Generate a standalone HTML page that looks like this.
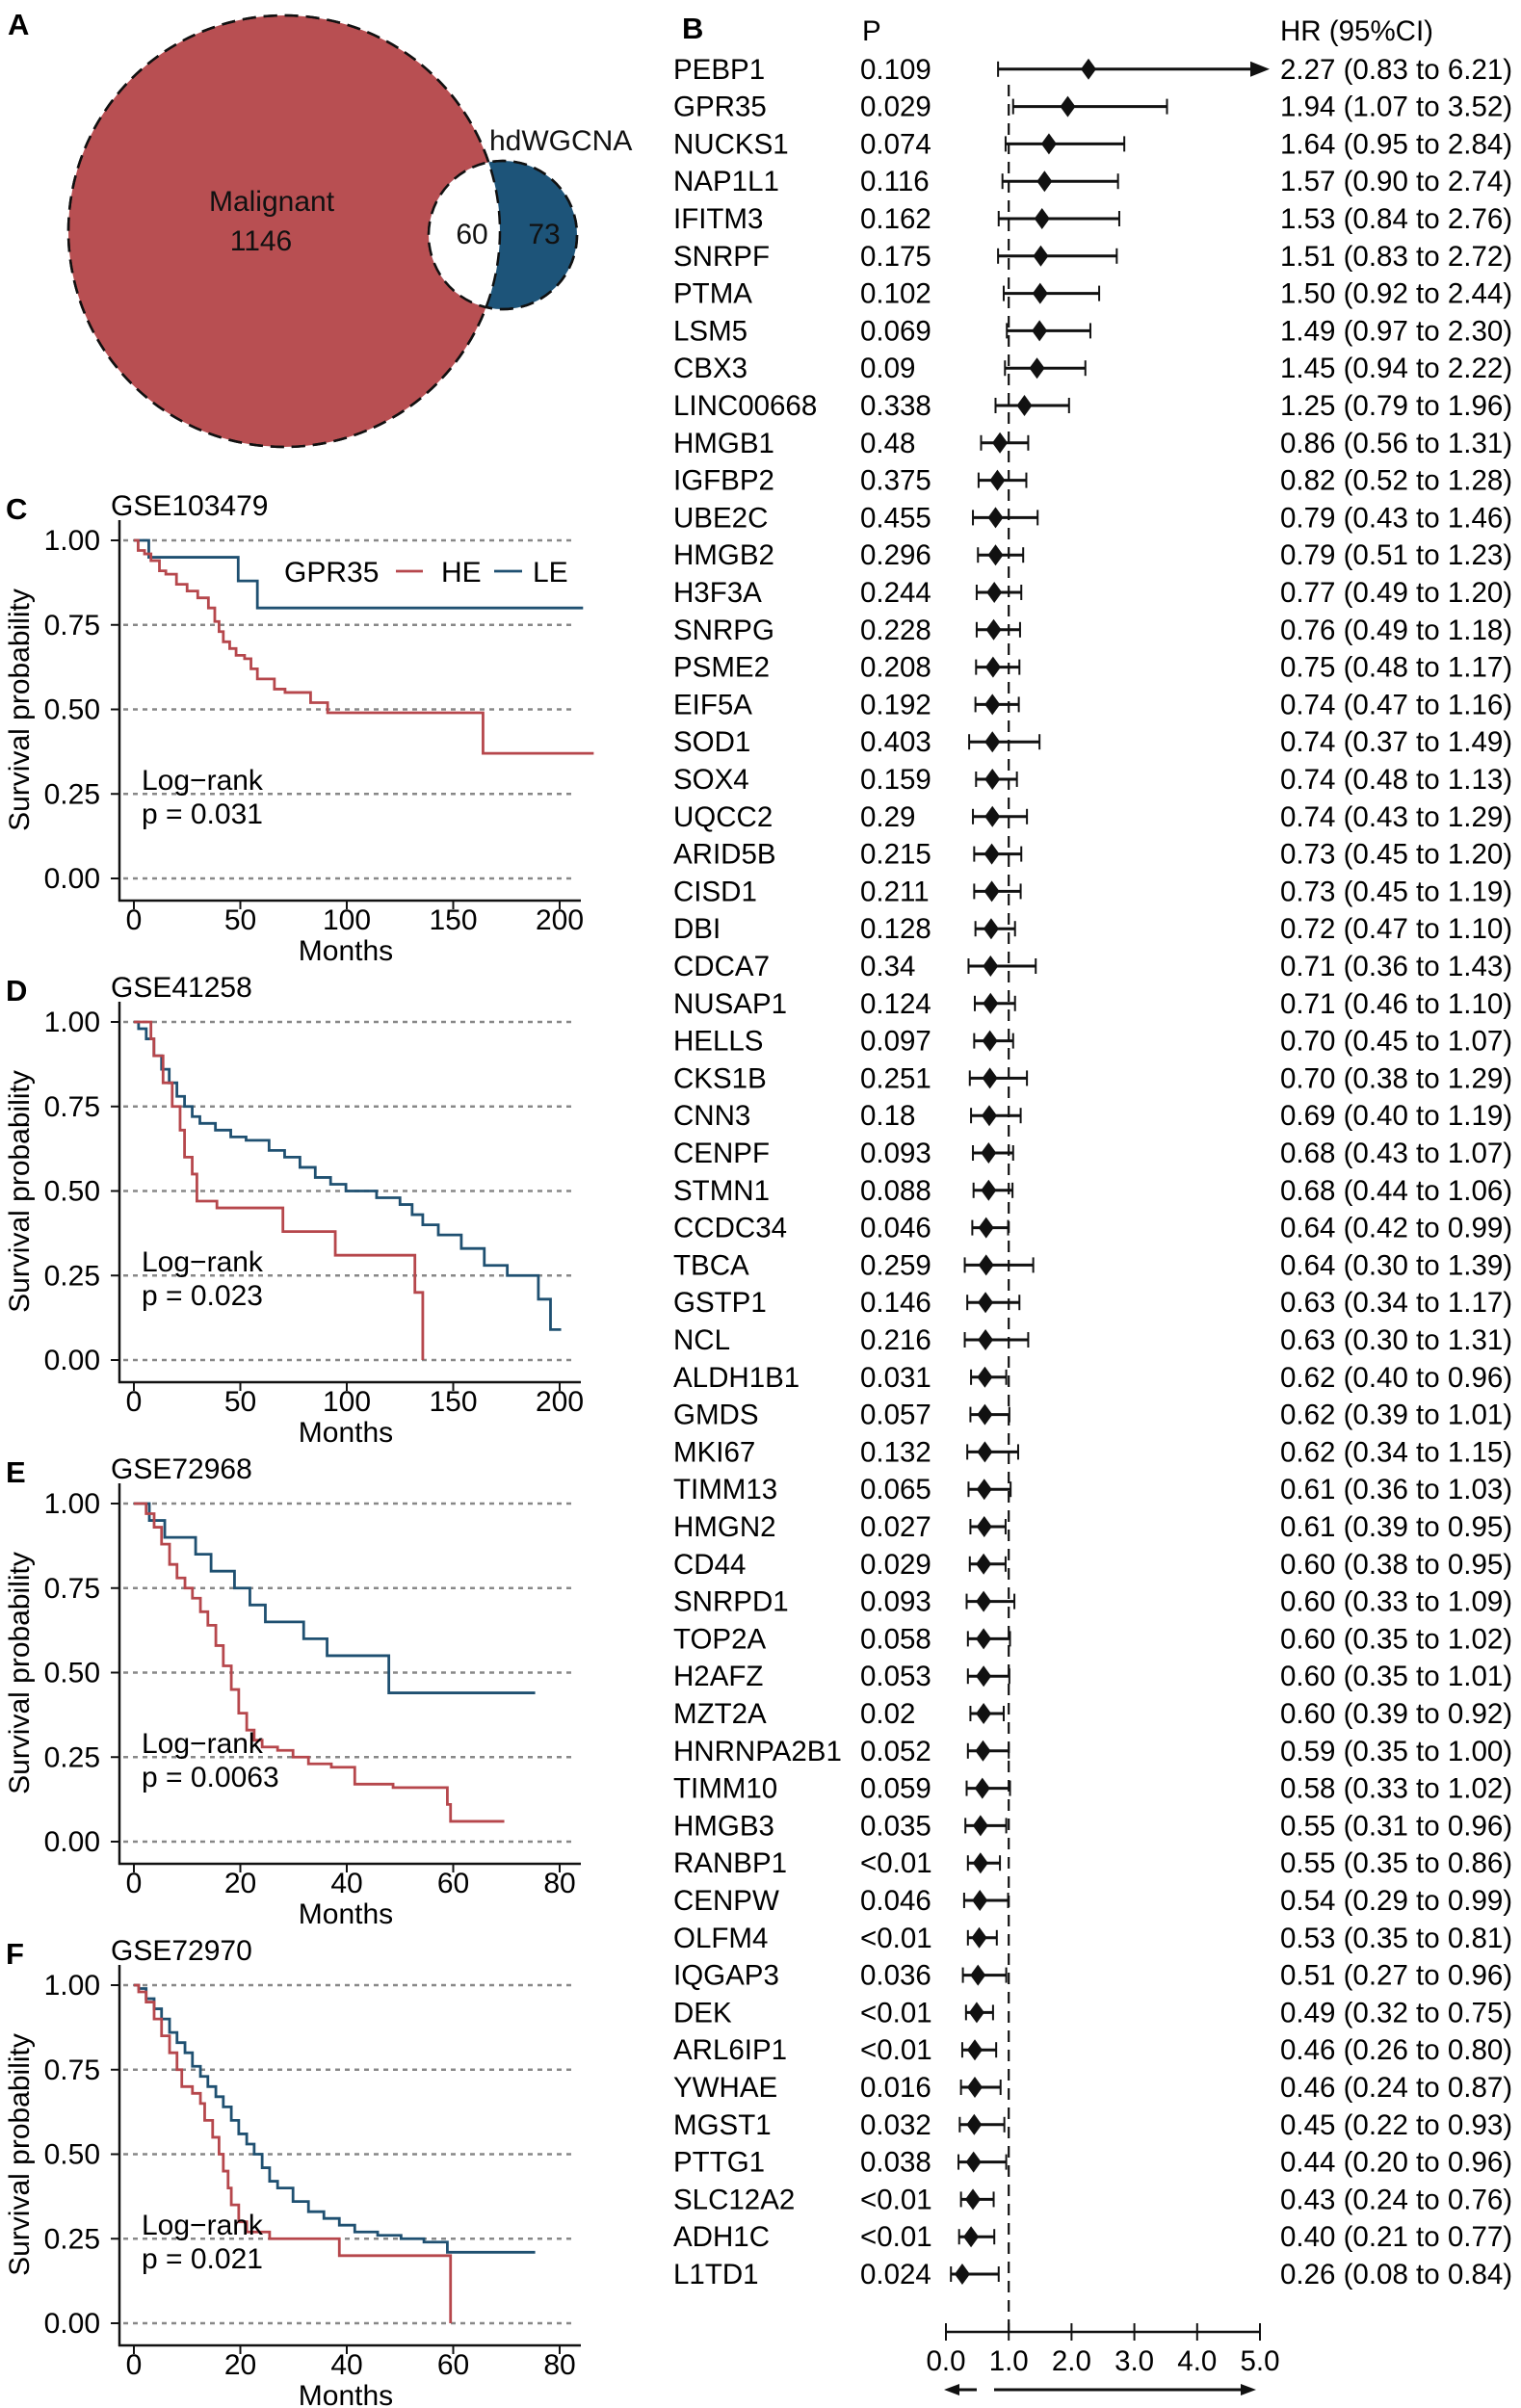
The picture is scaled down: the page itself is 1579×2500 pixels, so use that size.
<!DOCTYPE html>
<html><head><meta charset="utf-8"><style>
html,body{margin:0;padding:0;background:#fff}
svg{display:block;font-family:"Liberation Sans",Arial,sans-serif}
</style></head><body>
<svg id="fig" width="1579" height="2500" viewBox="0 0 1579 2500" xmlns="http://www.w3.org/2000/svg">
<g>
<text x="8" y="36" font-size="31" font-weight="bold">A</text>
<circle cx="295" cy="240" r="224" fill="#b84f52" stroke="#111" stroke-width="2.5" stroke-dasharray="14 8"/>
<circle cx="522" cy="244" r="77" fill="#1d5479" stroke="#111" stroke-width="2.5" stroke-dasharray="14 8"/>
<clipPath id="cl"><circle cx="295" cy="240" r="224"/></clipPath>
<circle cx="522" cy="244" r="77" fill="#fff" clip-path="url(#cl)"/>
<circle cx="295" cy="240" r="224" fill="none" stroke="#111" stroke-width="2.5" stroke-dasharray="14 8"/>
<circle cx="522" cy="244" r="77" fill="none" stroke="#111" stroke-width="2.5" stroke-dasharray="14 8"/>
<text x="282" y="219" font-size="30" text-anchor="middle" fill="#111">Malignant</text>
<text x="271" y="260" font-size="30" text-anchor="middle" fill="#111">1146</text>
<text x="490" y="253" font-size="30" text-anchor="middle" fill="#111">60</text>
<text x="565" y="253" font-size="30" text-anchor="middle" fill="#111">73</text>
<text x="508" y="156" font-size="30" fill="#111">hdWGCNA</text>
</g>
<g id="forest"></g>
<g id="km"></g>
</svg>
<script>
const NS="http://www.w3.org/2000/svg";
function mk(parent,tag,attrs,txt){const e=document.createElementNS(NS,tag);for(const k in attrs)e.setAttribute(k,attrs[k]);if(txt!==undefined)e.textContent=txt;parent.appendChild(e);return e;}

// ---------- Forest data ----------
const genes=["PEBP1","GPR35","NUCKS1","NAP1L1","IFITM3","SNRPF","PTMA","LSM5","CBX3","LINC00668","HMGB1","IGFBP2","UBE2C","HMGB2","H3F3A","SNRPG","PSME2","EIF5A","SOD1","SOX4","UQCC2","ARID5B","CISD1","DBI","CDCA7","NUSAP1","HELLS","CKS1B","CNN3","CENPF","STMN1","CCDC34","TBCA","GSTP1","NCL","ALDH1B1","GMDS","MKI67","TIMM13","HMGN2","CD44","SNRPD1","TOP2A","H2AFZ","MZT2A","HNRNPA2B1","TIMM10","HMGB3","RANBP1","CENPW","OLFM4","IQGAP3","DEK","ARL6IP1","YWHAE","MGST1","PTTG1","SLC12A2","ADH1C","L1TD1"];
const pvals=["0.109","0.029","0.074","0.116","0.162","0.175","0.102","0.069","0.09","0.338","0.48","0.375","0.455","0.296","0.244","0.228","0.208","0.192","0.403","0.159","0.29","0.215","0.211","0.128","0.34","0.124","0.097","0.251","0.18","0.093","0.088","0.046","0.259","0.146","0.216","0.031","0.057","0.132","0.065","0.027","0.029","0.093","0.058","0.053","0.02","0.052","0.059","0.035","<0.01","0.046","<0.01","0.036","<0.01","<0.01","0.016","0.032","0.038","<0.01","<0.01","0.024"];
const hr=[2.27,1.94,1.64,1.57,1.53,1.51,1.50,1.49,1.45,1.25,0.86,0.82,0.79,0.79,0.77,0.76,0.75,0.74,0.74,0.74,0.74,0.73,0.73,0.72,0.71,0.71,0.70,0.70,0.69,0.68,0.68,0.64,0.64,0.63,0.63,0.62,0.62,0.62,0.61,0.61,0.60,0.60,0.60,0.60,0.60,0.59,0.58,0.55,0.55,0.54,0.53,0.51,0.49,0.46,0.46,0.45,0.44,0.43,0.40,0.26];
const lo=[0.83,1.07,0.95,0.90,0.84,0.83,0.92,0.97,0.94,0.79,0.56,0.52,0.43,0.51,0.49,0.49,0.48,0.47,0.37,0.48,0.43,0.45,0.45,0.47,0.36,0.46,0.45,0.38,0.40,0.43,0.44,0.42,0.30,0.34,0.30,0.40,0.39,0.34,0.36,0.39,0.38,0.33,0.35,0.35,0.39,0.35,0.33,0.31,0.35,0.29,0.35,0.27,0.32,0.26,0.24,0.22,0.20,0.24,0.21,0.08];
const hi=[6.21,3.52,2.84,2.74,2.76,2.72,2.44,2.30,2.22,1.96,1.31,1.28,1.46,1.23,1.20,1.18,1.17,1.16,1.49,1.13,1.29,1.20,1.19,1.10,1.43,1.10,1.07,1.29,1.19,1.07,1.06,0.99,1.39,1.17,1.31,0.96,1.01,1.15,1.03,0.95,0.95,1.09,1.02,1.01,0.92,1.00,1.02,0.96,0.86,0.99,0.81,0.96,0.75,0.80,0.87,0.93,0.96,0.76,0.77,0.84];
const hrTicks=["0.0","1.0","2.0","3.0","4.0","5.0"];

const F=document.getElementById('forest');
const fx=v=>982+v*(1308-982)/5;
const rowY=i=>71.8+i*38.8;
const FS=29.5;
let t;
t=mk(F,'text',{x:708,y:40,'font-size':31,'font-weight':'bold'},'B');
t=mk(F,'text',{x:895,y:42,'font-size':FS},'P');
t=mk(F,'text',{x:1329,y:42,'font-size':FS},'HR (95%CI)');
const ref=mk(F,'line',{x1:fx(1),x2:fx(1),y1:88,y2:2421,stroke:'#111','stroke-width':2.2,'stroke-dasharray':'12 8'});

genes.forEach((g,i)=>{
  const y=rowY(i);
  const row=mk(F,'g',{});
  
  
  let e=mk(row,'text',{x:699,y:y+10,'font-size':FS},g);
  
  e=mk(row,'text',{x:893,y:y+10,'font-size':FS},pvals[i]);
  
  e=mk(row,'text',{x:1329,y:y+10,'font-size':FS},hr[i].toFixed(2)+' ('+lo[i].toFixed(2)+' to '+hi[i].toFixed(2)+')');
  
  const over=hi[i]>5;
  const xe=over?fx(5)+8:fx(hi[i]);
  e=mk(row,'line',{x1:fx(lo[i]),x2:over?xe-14:xe,y1:y,y2:y,stroke:'#111','stroke-width':3});
  
  mk(row,'line',{x1:fx(lo[i]),x2:fx(lo[i]),y1:y-8,y2:y+8,stroke:'#111','stroke-width':2});
  if(over){mk(row,'path',{d:`M${xe-18},${y-8}L${xe+2},${y}L${xe-18},${y+8}Z`,fill:'#111'});}
  else mk(row,'line',{x1:xe,x2:xe,y1:y-8,y2:y+8,stroke:'#111','stroke-width':2});
  const cx=fx(hr[i]);
  e=mk(row,'path',{d:`M${cx-8},${y}L${cx},${y-11}L${cx+8},${y}L${cx},${y+11}Z`,fill:'#111'});
  
});
const ax=mk(F,'g',{});
mk(ax,'line',{x1:fx(0),x2:fx(5),y1:2421,y2:2421,stroke:'#111','stroke-width':2.5});
hrTicks.forEach(s=>{const v=parseFloat(s);mk(ax,'line',{x1:fx(v),x2:fx(v),y1:2412,y2:2430,stroke:'#111','stroke-width':2});
  const e=mk(ax,'text',{x:fx(v),y:2461,'font-size':FS,'text-anchor':'middle'},s);});
mk(ax,'line',{x1:992,x2:1014,y1:2481,y2:2481,stroke:'#111','stroke-width':3});
mk(ax,'path',{d:'M980,2481L996,2475L996,2487Z',fill:'#111'});
mk(ax,'line',{x1:1032,x2:1292,y1:2481,y2:2481,stroke:'#111','stroke-width':3});
mk(ax,'path',{d:'M1304,2481L1288,2475L1288,2487Z',fill:'#111'});

// ---------- KM data ----------
const RED="#b6474c", BLUE="#1f5071";
const cHeT=[0,2,5,8,12,15,20,25,30,35,38,40,42,45,48,52,55,58,66,71,83,91,164,216];
const cHeS=[1,.97,.96,.94,.91,.90,.87,.85,.83,.80,.76,.73,.70,.68,.66,.65,.62,.59,.56,.55,.52,.49,.37,.37];
const cLeT=[0,7,49,58,211];
const cLeS=[1,.95,.88,.80,.80];
const dHeT=[0,8,9.4,13.7,18,21.7,23.8,27.4,29.6,39,70,94.6,132,135.7,135.7];
const dHeS=[1,.95,.90,.82,.75,.68,.60,.55,.47,.45,.38,.31,.20,0,0];
const dLeT=[0,2.2,5.8,9.4,13,16.6,20.2,23.8,27.4,31,38.3,45.5,52.7,63.5,70.8,78,85.2,92.4,99.6,114,125,130.7,135.7,143,153.8,164.6,175.4,190,195.7,200.7];
const dLeS=[1,.98,.95,.90,.86,.82,.78,.75,.72,.70,.68,.66,.65,.62,.60,.57,.54,.52,.50,.48,.46,.43,.40,.37,.33,.28,.25,.18,.09,.09];
const eHeT=[0,2.3,3.8,5.2,6.7,8.1,9.6,11,12.5,13.9,15.4,16.8,18.3,19.7,21.2,22.6,24.1,27,29.9,32.8,37.1,41.5,48.7,58.9,59.5,69.6];
const eHeS=[1,.97,.93,.88,.82,.78,.75,.72,.68,.64,.58,.52,.45,.38,.33,.30,.28,.27,.25,.23,.22,.17,.16,.11,.06,.06];
const eLeT=[0,2.9,5.8,11.6,14.5,18.9,21.8,24.7,31.9,36.3,47.9,75.4];
const eLeS=[1,.95,.90,.85,.80,.75,.70,.65,.60,.55,.44,.44];
const fHeT=[0,0.9,2.3,3.8,5.2,6.7,8.1,9,11,12.5,13.3,14.8,16,16.8,17.7,18.3,19.7,21.2,25.5,38.6,59.5,59.5];
const fHeS=[1,.98,.95,.90,.85,.80,.75,.70,.68,.65,.60,.55,.50,.45,.40,.35,.30,.27,.25,.20,0,0];
const fLeT=[0,.9,2.3,3.8,5.2,6.7,8.1,9.6,11,12.5,13.9,15.4,16.8,18.3,19.7,21.2,22.6,24.1,25.5,27,29.9,32.8,35.7,38.6,41.5,45.8,50.2,54.5,58.9,75.4];
const fLeS=[1,.99,.96,.93,.90,.86,.83,.80,.76,.73,.70,.67,.64,.60,.56,.53,.50,.46,.42,.40,.36,.33,.31,.29,.27,.26,.25,.24,.21,.21];
const yTicks=["0.00","0.25","0.50","0.75","1.00"];
const xTicksLong=["0","50","100","150","200"];
const xTicksShort=["0","20","40","60","80"];

const panels=[
 {L:"C",title:"GSE103479",xmax:200,ticks:xTicksLong,he:[cHeT,cHeS],le:[cLeT,cLeS],p:"p = 0.031",legend:true},
 {L:"D",title:"GSE41258",xmax:200,ticks:xTicksLong,he:[dHeT,dHeS],le:[dLeT,dLeS],p:"p = 0.023"},
 {L:"E",title:"GSE72968",xmax:80,ticks:xTicksShort,he:[eHeT,eHeS],le:[eLeT,eLeS],p:"p = 0.0063"},
 {L:"F",title:"GSE72970",xmax:80,ticks:xTicksShort,he:[fHeT,fHeS],le:[fLeT,fLeS],p:"p = 0.021"}];
const KS=30;
const K=document.getElementById('km');
panels.forEach((P,k)=>{
  const off=k*500;
  const y1=561+off,y0=912+off,x0=139,x1=581;
  const sx=t=>x0+t*(x1-x0)/P.xmax, sy=s=>y0-s*(y0-y1);
  const g=mk(K,'g',{});
  
  
  let e=mk(g,'text',{x:6,y:539+off,'font-size':31,'font-weight':'bold'},P.L);
  
  e=mk(g,'text',{x:115,y:535+off,'font-size':KS},P.title);
  
  yTicks.forEach(s=>{const v=parseFloat(s),y=sy(v);
    mk(g,'line',{x1:128,x2:596,y1:y,y2:y,stroke:'#888','stroke-width':2.5,'stroke-dasharray':'5 5'});
    mk(g,'line',{x1:115,x2:124,y1:y,y2:y,stroke:'#111','stroke-width':2});
    const t2=mk(g,'text',{x:104,y:y+10,'font-size':KS,'text-anchor':'end'},s);
    });
  mk(g,'line',{x1:124,x2:124,y1:540+off,y2:936+off,stroke:'#111','stroke-width':2.5});
  mk(g,'line',{x1:123,x2:603,y1:935+off,y2:935+off,stroke:'#111','stroke-width':2.5});
  P.ticks.forEach(s=>{const v=parseFloat(s),x=sx(v);
    mk(g,'line',{x1:x,x2:x,y1:935+off,y2:944+off,stroke:'#111','stroke-width':2});
    const t2=mk(g,'text',{x:x,y:965+off,'font-size':KS,'text-anchor':'middle'},s);
    });
  e=mk(g,'text',{x:359,y:997+off,'font-size':KS,'text-anchor':'middle'},'Months');
  
  e=mk(g,'text',{x:0,y:0,'font-size':KS,'text-anchor':'middle',transform:`translate(30,${737+off}) rotate(-90)`},'Survival probability');
  
  const step=(T,S)=>{let d=`M${sx(T[0])},${sy(S[0])}`;for(let i=1;i<T.length;i++){d+=`H${sx(T[i])}V${sy(S[i])}`;}return d;};
  e=mk(g,'path',{d:step(P.le[0],P.le[1]),fill:'none',stroke:BLUE,'stroke-width':2.8});
  
  e=mk(g,'path',{d:step(P.he[0],P.he[1]),fill:'none',stroke:RED,'stroke-width':2.8});
  
  e=mk(g,'text',{x:147,y:820+off,'font-size':KS},'Log\u2212rank');
  
  e=mk(g,'text',{x:147,y:855+off,'font-size':KS},P.p);
  
  if(P.legend){
    const lg=mk(g,'g',{});
    mk(lg,'text',{x:295,y:604,'font-size':KS},'GPR35');
    mk(lg,'line',{x1:411,x2:439,y1:593,y2:593,stroke:RED,'stroke-width':2.8});
    mk(lg,'text',{x:458,y:604,'font-size':KS},'HE');
    mk(lg,'line',{x1:513,x2:542,y1:593,y2:593,stroke:BLUE,'stroke-width':2.8});
    mk(lg,'text',{x:553,y:604,'font-size':KS},'LE');
  }
});
</script>
</body></html>
